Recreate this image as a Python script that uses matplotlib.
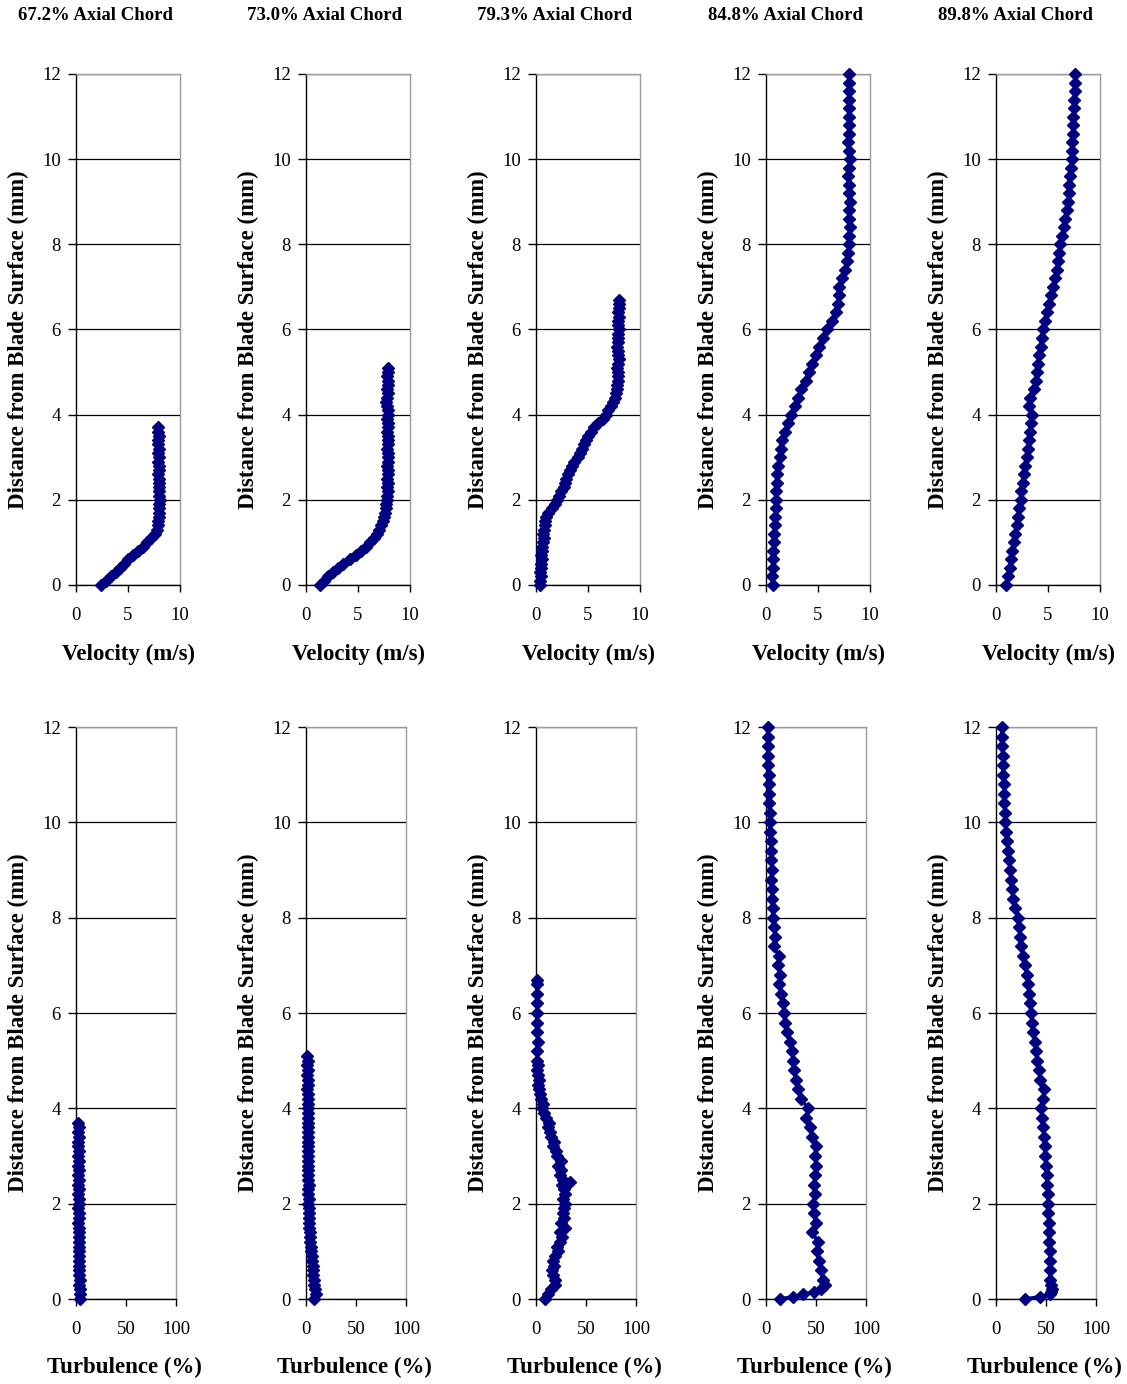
import matplotlib
matplotlib.use("Agg")
import matplotlib.pyplot as plt

plt.rcParams['font.family'] = ['Liberation Serif', 'DejaVu Serif']

titles = ["67.2% Axial Chord", "73.0% Axial Chord", "79.3% Axial Chord",
          "84.8% Axial Chord", "89.8% Axial Chord"]

# ---- velocity profiles (m/s) vs distance (mm) ----
vel_y1 = [0.0, 0.1, 0.2, 0.3, 0.4, 0.5, 0.6, 0.7, 0.8, 0.9, 1.0, 1.1, 1.2, 1.3, 1.4, 1.5, 1.6, 1.7, 1.8,
          1.9, 2.0, 2.1, 2.2, 2.3, 2.4, 2.5, 2.6, 2.7, 2.8, 2.9, 3.0, 3.1, 3.2, 3.3, 3.4, 3.5, 3.6, 3.7]
vel_x1 = [2.4, 2.9, 3.4, 3.8, 4.2, 4.6, 5.0, 5.5, 6.0, 6.4, 6.8, 7.2, 7.6, 7.8, 7.9, 7.9, 7.95, 8.0, 8.0,
          8.0, 8.05, 8.0, 8.0, 8.0, 7.95, 8.0, 7.9, 7.95, 8.0, 7.9, 7.95, 7.9, 7.95, 7.9, 7.9, 7.95, 7.9, 7.9]

vel_y2 = [0.0, 0.1, 0.2, 0.3, 0.4, 0.5, 0.6, 0.7, 0.8, 0.9, 1.0, 1.1, 1.2, 1.3, 1.4, 1.5, 1.6, 1.7, 1.8,
          1.9, 2.0, 2.1, 2.2, 2.3, 2.4, 2.5, 2.6, 2.7, 2.8, 2.9, 3.0, 3.1, 3.2, 3.3, 3.4, 3.5, 3.6, 3.7,
          3.8, 3.9, 4.0, 4.1, 4.2, 4.3, 4.4, 4.5, 4.6, 4.7, 4.8, 4.9, 5.0, 5.1]
vel_x2 = [1.3, 1.7, 2.1, 2.6, 3.1, 3.6, 4.2, 4.8, 5.3, 5.8, 6.2, 6.5, 6.8, 7.0, 7.2, 7.4, 7.5, 7.6, 7.7,
          7.7, 7.75, 7.8, 7.85, 7.8, 7.9, 7.8, 7.85, 7.9, 7.8, 7.9, 7.85, 7.9, 7.8, 7.9, 7.85, 7.9, 7.8, 7.85,
          7.9, 7.8, 7.9, 7.85, 7.8, 7.7, 7.8, 7.85, 7.8, 7.9, 7.85, 7.8, 7.9, 7.85]

vel_y3 = [0.0, 0.1, 0.2, 0.3, 0.4, 0.5, 0.6, 0.7, 0.8, 0.9, 1.0, 1.1, 1.2, 1.3, 1.4, 1.5, 1.6, 1.7, 1.8,
          1.9, 2.0, 2.1, 2.2, 2.3, 2.4, 2.5, 2.6, 2.7, 2.8, 2.9, 3.0, 3.1, 3.2, 3.3, 3.4, 3.5, 3.6, 3.7,
          3.8, 3.9, 4.0, 4.1, 4.2, 4.3, 4.4, 4.5, 4.6, 4.7, 4.8, 4.9, 5.0, 5.1, 5.2, 5.3, 5.4, 5.5, 5.6,
          5.7, 5.8, 5.9, 6.0, 6.1, 6.2, 6.3, 6.4, 6.5, 6.6, 6.7]
vel_x3 = [0.4, 0.4, 0.45, 0.4, 0.5, 0.5, 0.55, 0.5, 0.6, 0.6, 0.7, 0.75, 0.7, 0.8, 0.85, 0.9, 1.0, 1.2, 1.5,
          1.8, 2.0, 2.2, 2.4, 2.7, 2.8, 2.9, 3.1, 3.3, 3.5, 3.7, 4.0, 4.2, 4.4, 4.6, 4.8, 5.0, 5.3, 5.6,
          6.0, 6.4, 6.7, 6.9, 7.2, 7.4, 7.6, 7.7, 7.8, 7.8, 7.9, 7.85, 7.9, 7.8, 7.9, 7.95, 7.85, 7.9, 7.8,
          7.9, 7.85, 7.9, 7.95, 7.85, 7.9, 8.0, 7.9, 7.95, 8.0, 8.0]

vel_y4 = [0.0, 0.2, 0.4, 0.6, 0.8, 1.0, 1.2, 1.4, 1.6, 1.8, 2.0, 2.2, 2.4, 2.6, 2.8, 3.0, 3.2, 3.4, 3.6,
          3.8, 4.0, 4.2, 4.4, 4.6, 4.8, 5.0, 5.2, 5.4, 5.6, 5.8, 6.0, 6.2, 6.4, 6.6, 6.8, 7.0, 7.2, 7.4,
          7.6, 7.8, 8.0, 8.2, 8.4, 8.6, 8.8, 9.0, 9.2, 9.4, 9.6, 9.8, 10.0, 10.2, 10.4, 10.6, 10.8, 11.0,
          11.2, 11.4, 11.6, 11.8, 12.0]
vel_x4 = [0.7, 0.6, 0.65, 0.7, 0.7, 0.8, 0.8, 0.85, 0.9, 0.95, 1.0, 1.0, 1.05, 1.1, 1.2, 1.3, 1.4, 1.5, 1.8,
          2.1, 2.4, 2.8, 3.1, 3.4, 3.8, 4.1, 4.4, 4.8, 5.1, 5.5, 5.9, 6.3, 6.7, 6.9, 7.0, 7.0, 7.3, 7.6,
          7.8, 7.9, 8.0, 7.95, 8.05, 7.95, 8.0, 8.05, 7.95, 8.0, 7.9, 8.0, 8.05, 7.95, 7.9, 8.0, 7.95, 8.0,
          7.95, 8.0, 7.95, 8.0, 8.0]

vel_y5 = vel_y4
vel_x5 = [1.0, 1.15, 1.3, 1.4, 1.55, 1.7, 1.85, 2.0, 2.1, 2.25, 2.4, 2.45, 2.55, 2.65, 2.8, 2.95, 3.05, 3.15, 3.25,
          3.35, 3.5, 3.15, 3.3, 3.7, 3.8, 3.9, 4.0, 4.15, 4.3, 4.4, 4.55, 4.7, 4.9, 5.05, 5.25, 5.5, 5.7, 5.9,
          6.0, 6.1, 6.15, 6.35, 6.5, 6.65, 6.8, 6.95, 7.0, 7.05, 7.1, 7.2, 7.3, 7.3, 7.35, 7.4, 7.4, 7.45,
          7.5, 7.5, 7.55, 7.55, 7.6]

# ---- turbulence profiles (%) vs distance (mm) ----
tur_y1 = vel_y1
tur_x1 = [3.5, 4.0, 3.5, 3.0, 3.5, 3.0, 3.0, 2.5, 3.0, 2.5, 3.0, 2.5, 2.5, 3.0, 2.5, 2.5, 2.0, 2.5, 2.5,
          2.0, 2.5, 2.5, 2.0, 2.5, 2.0, 2.5, 2.0, 2.5, 2.0, 2.5, 2.0, 2.5, 2.0, 2.0, 2.5, 2.0, 2.5, 2.0]

tur_y2 = vel_y2
tur_x2 = [8.0, 10.0, 9.0, 8.5, 8.0, 7.5, 7.0, 7.5, 6.5, 6.0, 5.0, 5.5, 4.5, 4.0, 4.0, 3.5, 3.5, 3.0, 3.0,
          3.0, 2.5, 3.0, 2.5, 2.5, 3.0, 2.5, 2.5, 2.0, 2.5, 2.5, 2.0, 2.5, 2.0, 2.5, 2.0, 2.0, 2.5, 2.0,
          2.0, 2.5, 2.0, 2.0, 2.5, 2.0, 1.5, 2.0, 2.0, 1.5, 2.0, 1.5, 2.0, 1.5]

tur_y3 = [0.0, 0.1, 0.2, 0.3, 0.4, 0.5, 0.6, 0.7, 0.8, 0.9, 1.0, 1.1, 1.2, 1.3, 1.4, 1.5, 1.6, 1.7, 1.8,
          1.9, 2.0, 2.1, 2.2, 2.3, 2.4, 2.5, 2.45, 2.6, 2.7, 2.8, 2.9, 3.0, 3.1, 3.2, 3.3, 3.4, 3.5, 3.6,
          3.7, 3.8, 3.9, 4.0, 4.1, 4.2, 4.3, 4.4, 4.5, 4.6, 4.7, 4.8, 4.9, 5.0, 5.2, 5.4, 5.6, 5.8, 6.0,
          6.2, 6.4, 6.6, 6.7]
tur_x3 = [9, 12, 15, 19, 19, 17, 16, 18, 17, 19, 22, 21, 24, 26, 24, 29, 25, 28, 27,
          28, 29, 27, 29, 28, 26, 27, 34, 24, 25, 22, 25, 21, 20, 17, 18, 15, 14, 12,
          13, 10, 8, 6, 7, 5, 4, 3, 2, 3, 2, 1, 2, 1, 1, 2, 1, 1, 1,
          1, 1, 1, 1]

tur_y4 = [0.0, 0.05, 0.1, 0.15, 0.2, 0.3, 0.4, 0.6, 0.8, 1.0, 1.2, 1.4, 1.6, 1.8, 2.0, 2.2, 2.4, 2.6, 2.8,
          3.0, 3.2, 3.4, 3.6, 3.8, 4.0, 4.2, 4.4, 4.6, 4.8, 5.0, 5.2, 5.4, 5.6, 5.8, 6.0, 6.2, 6.4, 6.6,
          6.8, 7.0, 7.2, 7.4, 7.6, 7.8, 8.0, 8.2, 8.4, 8.6, 8.8, 9.0, 9.2, 9.4, 9.6, 9.8, 10.0, 10.2,
          10.4, 10.6, 10.8, 11.0, 11.2, 11.4, 11.6, 11.8, 12.0]
tur_x4 = [14, 27, 37, 48, 55, 59, 57, 55, 53, 51, 52, 46, 50, 48, 47, 49, 48, 49, 50,
          49, 50, 46, 44, 40, 42, 35, 32, 30, 28, 27, 26, 24, 21, 19, 18, 17, 15, 13,
          14, 12, 13, 8, 9, 8, 7, 7, 6, 6, 5, 6, 5, 5, 5, 4, 4, 4,
          3, 3, 3, 3, 2, 2, 2, 2, 2]

tur_y5 = tur_y4
tur_x5 = [29, 44, 54, 55, 56, 55, 54, 54, 54, 54, 53, 53, 53, 52, 52, 52, 51, 51, 50,
          49, 49, 48, 47, 46, 45, 47, 48, 44, 43, 41, 40, 39, 37, 36, 35, 34, 33, 32,
          31, 29, 27, 25, 24, 23, 22, 19, 17, 16, 15, 14, 13, 12, 11, 10, 9, 9,
          8, 8, 8, 7, 7, 7, 6, 6, 6]

vel_series = [(vel_x1, vel_y1), (vel_x2, vel_y2), (vel_x3, vel_y3), (vel_x4, vel_y4), (vel_x5, vel_y5)]
tur_series = [(tur_x1, tur_y1), (tur_x2, tur_y2), (tur_x3, tur_y3), (tur_x4, tur_y4), (tur_x5, tur_y5)]

y_ticks = [0, 2, 4, 6, 8, 10, 12]
vel_ticks = [0, 5, 10]
tur_ticks = [0, 50, 100]

W, H = 1127, 1384
fig = plt.figure(figsize=(W / 100, H / 100), dpi=100)
NAVY = '#000080'


def style(ax, xlim, xticks):
    ax.set_xlim(xlim)
    ax.set_ylim(0, 12)
    ax.set_xticks(xticks)
    ax.set_yticks(y_ticks)
    ax.set_xticklabels([str(t) for t in xticks])
    ax.set_yticklabels([str(t) for t in y_ticks])
    ax.tick_params(axis='x', direction='out', length=5, width=1, pad=11, labelsize=13.5, colors='black')
    ax.tick_params(axis='y', direction='out', length=6, width=1, pad=5, labelsize=13.5, colors='black')
    ax.grid(axis='y', color='black', linewidth=0.9)
    ax.set_axisbelow(True)
    ax.spines['left'].set_color('black')
    ax.spines['bottom'].set_color('black')
    ax.spines['top'].set_color('#9a9a9a')
    ax.spines['right'].set_color('#9a9a9a')
    for s in ax.spines.values():
        s.set_linewidth(1.0)


for i in range(5):
    x0 = 76 + 230 * i
    # top row: velocity
    ax = fig.add_axes([x0 / W, 1 - 585 / H, 104 / W, 511 / H])
    xs, ys = vel_series[i]
    ax.plot(xs, ys, color=NAVY, lw=2.5, marker='D', ms=6, mec=NAVY, mfc=NAVY, clip_on=False, zorder=3)
    style(ax, (0, 10), vel_ticks)
    fig.text((x0 + 19) / W, 1 - 15 / H, titles[i], ha='center', va='center',
             fontsize=13.5, fontweight='bold')
    fig.text((x0 - 58) / W, 1 - 340 / H, "Distance from Blade Surface (mm)", rotation=90,
             ha='center', va='center', fontsize=16.5, fontweight='bold')
    fig.text((x0 + 52) / W, 1 - 654 / H, "Velocity (m/s)", ha='center', va='center',
             fontsize=16.5, fontweight='bold')

    # bottom row: turbulence
    ax2 = fig.add_axes([x0 / W, 1 - 1299 / H, 100 / W, 572 / H])
    xs, ys = tur_series[i]
    ax2.plot(xs, ys, color=NAVY, lw=2.5, marker='D', ms=6, mec=NAVY, mfc=NAVY, clip_on=False, zorder=3)
    style(ax2, (0, 100), tur_ticks)
    fig.text((x0 - 58) / W, 1 - 1023 / H, "Distance from Blade Surface (mm)", rotation=90,
             ha='center', va='center', fontsize=16.5, fontweight='bold')
    fig.text((x0 + 48) / W, 1 - 1367 / H, "Turbulence (%)", ha='center', va='center',
             fontsize=16.5, fontweight='bold')

fig.savefig("out.png", dpi=100, facecolor='white')
